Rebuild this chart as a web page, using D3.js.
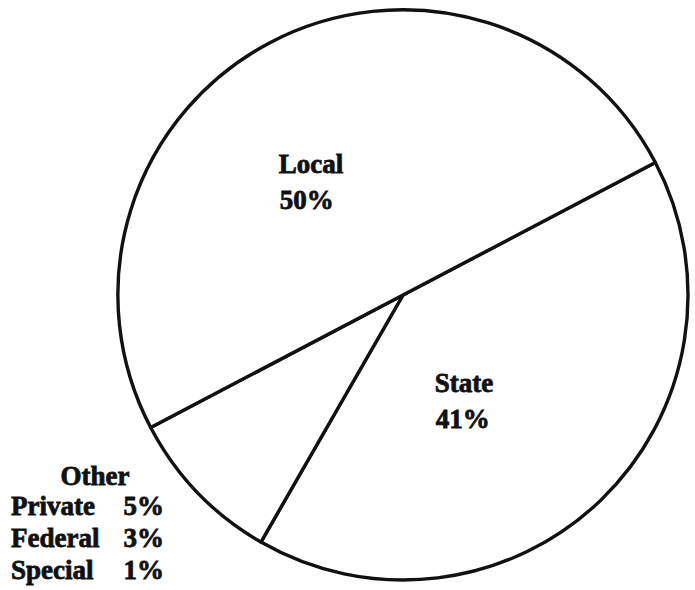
<!DOCTYPE html>
<html>
<head>
<meta charset="utf-8">
<script src="https://cdn.jsdelivr.net/npm/d3@7"></script>
<style>
  body { margin: 0; background: #fff; }
</style>
</head>
<body>
<script>
// slice data, clockwise from the upper right cut
var categories = ["State", "Other", "Local"];
var shares = [41, 9, 50];
// breakdown of the "Other" slice
var otherNames = ["Private", "Federal", "Special"];
var otherShares = [5, 3, 1];

var width = 695,
    height = 590,
    cx = 403, cy = 295,
    radius = 285;

var font = "'Liberation Serif', 'Times New Roman', 'DejaVu Serif', serif";
var fs = 27;

var svg = d3.select("body").append("svg")
    .attr("width", width)
    .attr("height", height);

var g = svg.append("g")
    .attr("transform", "translate(" + cx + "," + cy + ")");

var startDeg = 62.3;
var pie = d3.pie()
    .sort(null)
    .startAngle(startDeg * Math.PI / 180)
    .endAngle(startDeg * Math.PI / 180 + Math.PI * 2);

var arcs = pie(shares);

var arc = d3.arc()
    .innerRadius(0)
    .outerRadius(radius);

g.selectAll("path.slice")
  .data(arcs)
  .enter().append("path")
    .attr("class", "slice")
    .attr("d", arc)
    .attr("fill", "#fff")
    .attr("stroke", "#111")
    .attr("stroke-width", 3.4)
    .attr("stroke-linejoin", "round");

function label(sel, x, y, txt, anchor) {
  return sel.append("text")
      .attr("x", x)
      .attr("y", y)
      .attr("text-anchor", anchor || "start")
      .attr("font-family", font)
      .attr("font-weight", "bold")
      .attr("font-size", fs)
      .attr("fill", "#111")
      .attr("stroke", "#111")
      .attr("stroke-width", 0.8)
      .text(txt);
}

// labels inside Local and State, nudged from the centroid
var labelShift = { Local: [-58, 4], State: [-67, -6] };

arcs.forEach(function(d, i) {
  var name = categories[i];
  if (!labelShift[name]) return;
  var c = arc.centroid(d);
  var x = c[0] + labelShift[name][0],
      y = c[1] + labelShift[name][1];
  label(g, x, y, name);
  label(g, x + 1, y + 36, shares[i] + "%");
});

// "Other" breakdown in the lower left corner
var leg = svg.append("g").attr("transform", "translate(0,485)");
label(leg, 95, 0, "Other", "middle");

var rowY = d3.scaleLinear().domain([0, 1]).range([30, 62]);
otherNames.forEach(function(n, i) {
  label(leg, 11, rowY(i), n);
  label(leg, 164, rowY(i), otherShares[i] + "%", "end");
});
</script>
</body>
</html>
